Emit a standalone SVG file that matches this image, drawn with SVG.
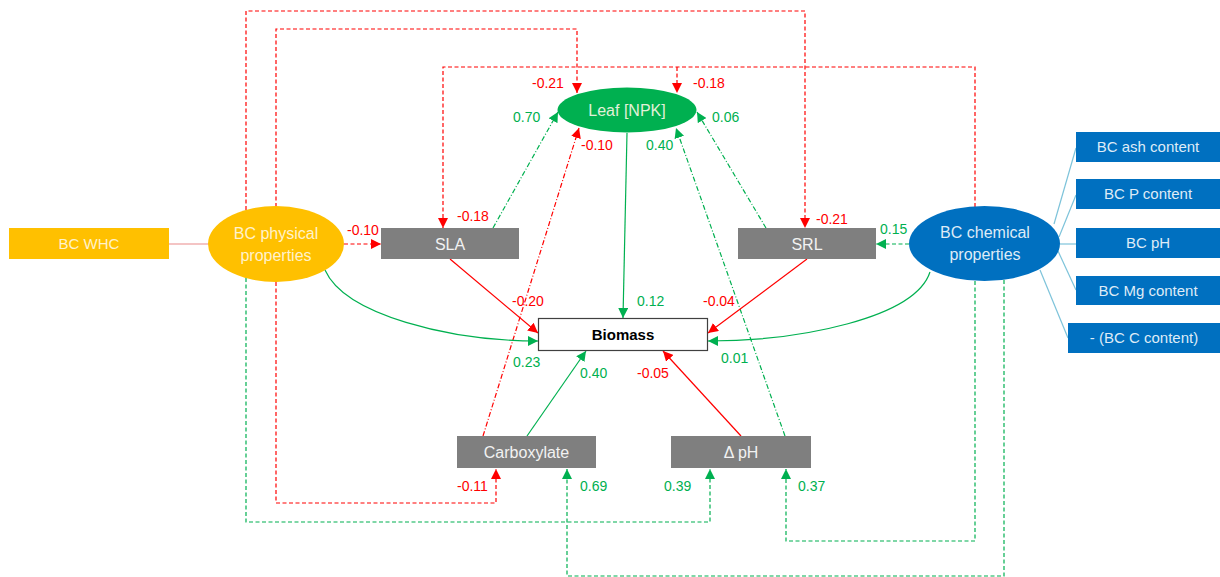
<svg xmlns="http://www.w3.org/2000/svg" width="1220" height="577" viewBox="0 0 1220 577">
<style>
  .lbl { font-family: "Liberation Sans", Arial, sans-serif; font-size: 15px; text-anchor: middle; }
  .lbg { font-family: "Liberation Sans", Arial, sans-serif; font-size: 16px; text-anchor: middle; fill: #F2F2F2; }
  .ell { font-family: "Liberation Sans", Arial, sans-serif; font-size: 16px; text-anchor: middle; }
  .num { font-family: "Liberation Sans", Arial, sans-serif; font-size: 14px; }
  .r { fill: #FF0000; }
  .g { fill: #00B050; }
  .gray { fill: #7F7F7F; }
  .blue { fill: #0070C0; }
  .c { fill: none; stroke-width: 1.2; }
  .rs { stroke: #FF0000; }
  .gs { stroke: #00B050; }
  .dash { stroke-dasharray: 4 2.5; }
  .dd { stroke-dasharray: 5 2 1 2; }
  .bl { stroke: #7DC3DA; stroke-width: 1.2; fill: none; }
</style>
<defs>
  <marker id="ar" markerUnits="userSpaceOnUse" markerWidth="12" markerHeight="10" refX="10" refY="5" orient="auto">
    <path d="M0,0 L10,5 L0,10 Z" fill="#FF0000" stroke="none"/>
  </marker>
  <marker id="ag" markerUnits="userSpaceOnUse" markerWidth="12" markerHeight="10" refX="10" refY="5" orient="auto">
    <path d="M0,0 L10,5 L0,10 Z" fill="#00B050" stroke="none"/>
  </marker>
</defs>

<g id="connectors">
  <line x1="169" y1="244" x2="208" y2="244" stroke="#E98A8A" stroke-width="1.2"/>
  <line class="bl" x1="1054" y1="224" x2="1076" y2="148"/>
  <line class="bl" x1="1059" y1="237" x2="1076" y2="195"/>
  <line class="bl" x1="1060" y1="244" x2="1076" y2="244"/>
  <line class="bl" x1="1058" y1="251" x2="1076" y2="290"/>
  <line class="bl" x1="1040" y1="270" x2="1068" y2="338"/>

  <path class="c rs dash" d="M344,244 H381" marker-end="url(#ar)"/>
  <path class="c rs dash" d="M246,210 V11 H805 V228" marker-end="url(#ar)"/>
  <path class="c rs dash" d="M276,207 V29 H577 V93" marker-end="url(#ar)"/>
  <path class="c rs dash" d="M975,207 V67 H443 V228" marker-end="url(#ar)"/>
  <path class="c rs dash" d="M677,67 V93" marker-end="url(#ar)"/>
  <path class="c rs dash" d="M276,282 V503 H496 V469" marker-end="url(#ar)"/>

  <path class="c gs dash" d="M909,244 H876" marker-end="url(#ag)"/>
  <path class="c gs dash" d="M246,278 V522 H710 V469" marker-end="url(#ag)"/>
  <path class="c gs dash" d="M1004,280 V576 H567 V469" marker-end="url(#ag)"/>
  <path class="c gs dash" d="M975,281 V541 H786 V469" marker-end="url(#ag)"/>

  <path class="c gs dd" d="M493,228 L558,112" marker-end="url(#ag)"/>
  <path class="c gs dd" d="M766,228 L697,112" marker-end="url(#ag)"/>
  <path class="c rs dd" d="M483,436 L579,128" marker-end="url(#ar)"/>
  <path class="c gs dd" d="M785,436 L676,128" marker-end="url(#ag)"/>

  <path class="c gs" d="M627,133 L623,318" marker-end="url(#ag)"/>
  <path class="c rs" d="M450,259 L538,333" marker-end="url(#ar)"/>
  <path class="c rs" d="M807,259 L708,333" marker-end="url(#ar)"/>
  <path class="c gs" d="M325,270 C345,315 450,341 538,341" marker-end="url(#ag)"/>
  <path class="c gs" d="M930,272 C915,318 800,341 708,341" marker-end="url(#ag)"/>
  <path class="c gs" d="M527,436 L586,351" marker-end="url(#ag)"/>
  <path class="c rs" d="M741,436 L663,351" marker-end="url(#ar)"/>

  <text class="num r" x="347" y="235">-0.10</text>
  <text class="num r" x="816" y="224">-0.21</text>
  <text class="num r" x="532" y="88">-0.21</text>
  <text class="num r" x="457" y="221">-0.18</text>
  <text class="num r" x="693" y="88">-0.18</text>
  <text class="num g" x="880" y="234">0.15</text>
  <text class="num g" x="513" y="122">0.70</text>
  <text class="num g" x="712" y="122">0.06</text>
  <text class="num r" x="581" y="150">-0.10</text>
  <text class="num g" x="646" y="150">0.40</text>
  <text class="num g" x="637" y="306">0.12</text>
  <text class="num r" x="512" y="306">-0.20</text>
  <text class="num r" x="703" y="306">-0.04</text>
  <text class="num g" x="513" y="367">0.23</text>
  <text class="num g" x="721" y="363">0.01</text>
  <text class="num g" x="580" y="378">0.40</text>
  <text class="num r" x="637" y="378">-0.05</text>
  <text class="num r" x="457" y="491">-0.11</text>
  <text class="num g" x="580" y="491">0.69</text>
  <text class="num g" x="664" y="491">0.39</text>
  <text class="num g" x="798" y="491">0.37</text>
</g>

<g id="bc-whc">
  <rect x="9" y="228" width="160" height="31" fill="#FFC000"/>
  <text class="lbl" x="89" y="249" fill="#FFF2CC">BC WHC</text>
</g>
<g id="bc-physical">
  <ellipse cx="276" cy="244" rx="68" ry="38" fill="#FFC000"/>
  <text class="ell" x="276" y="239" fill="#FFF2CC">BC physical</text>
  <text class="ell" x="276" y="261" fill="#FFF2CC">properties</text>
</g>
<g id="leaf">
  <ellipse cx="627" cy="110" rx="69.5" ry="22.5" fill="#00B050"/>
  <text class="ell" x="627" y="116" fill="#E2F0D9">Leaf [NPK]</text>
</g>
<g id="sla">
  <rect x="381" y="228" width="138" height="31" class="gray"/>
  <text class="lbg" x="450" y="249.5">SLA</text>
</g>
<g id="srl">
  <rect x="738" y="228" width="138" height="31" class="gray"/>
  <text class="lbg" x="807" y="249.5">SRL</text>
</g>
<g id="biomass">
  <rect x="538.5" y="318.5" width="169" height="32" fill="#FFFFFF" stroke="#404040" stroke-width="1.2"/>
  <text x="623" y="340" font-family="Liberation Sans, Arial, sans-serif" font-size="15" font-weight="bold" text-anchor="middle" fill="#000000">Biomass</text>
</g>
<g id="carboxylate">
  <rect x="457" y="436" width="139" height="32" class="gray"/>
  <text class="lbg" x="526.5" y="457.5">Carboxylate</text>
</g>
<g id="delta-ph">
  <rect x="671" y="436" width="140" height="32" class="gray"/>
  <text class="lbg" x="741" y="457.5">Δ pH</text>
</g>
<g id="bc-chemical">
  <ellipse cx="984.5" cy="243.5" rx="75.5" ry="37.5" fill="#0070C0"/>
  <text class="ell" x="985" y="238" fill="#DEEBF7">BC chemical</text>
  <text class="ell" x="985" y="260" fill="#DEEBF7">properties</text>
</g>
<g id="bc-ash">
  <rect x="1076" y="132" width="144" height="30" class="blue"/>
  <text class="lbl" x="1148" y="152" fill="#DEEBF7">BC ash content</text>
</g>
<g id="bc-p">
  <rect x="1076" y="179" width="144" height="30" class="blue"/>
  <text class="lbl" x="1148" y="199" fill="#DEEBF7">BC P content</text>
</g>
<g id="bc-ph">
  <rect x="1076" y="228" width="144" height="30" class="blue"/>
  <text class="lbl" x="1148" y="248" fill="#DEEBF7">BC pH</text>
</g>
<g id="bc-mg">
  <rect x="1076" y="276" width="144" height="29" class="blue"/>
  <text class="lbl" x="1148" y="296" fill="#DEEBF7">BC Mg content</text>
</g>
<g id="bc-c">
  <rect x="1068" y="323" width="152" height="30" class="blue"/>
  <text class="lbl" x="1144" y="343" fill="#DEEBF7">- (BC C content)</text>
</g>
</svg>
